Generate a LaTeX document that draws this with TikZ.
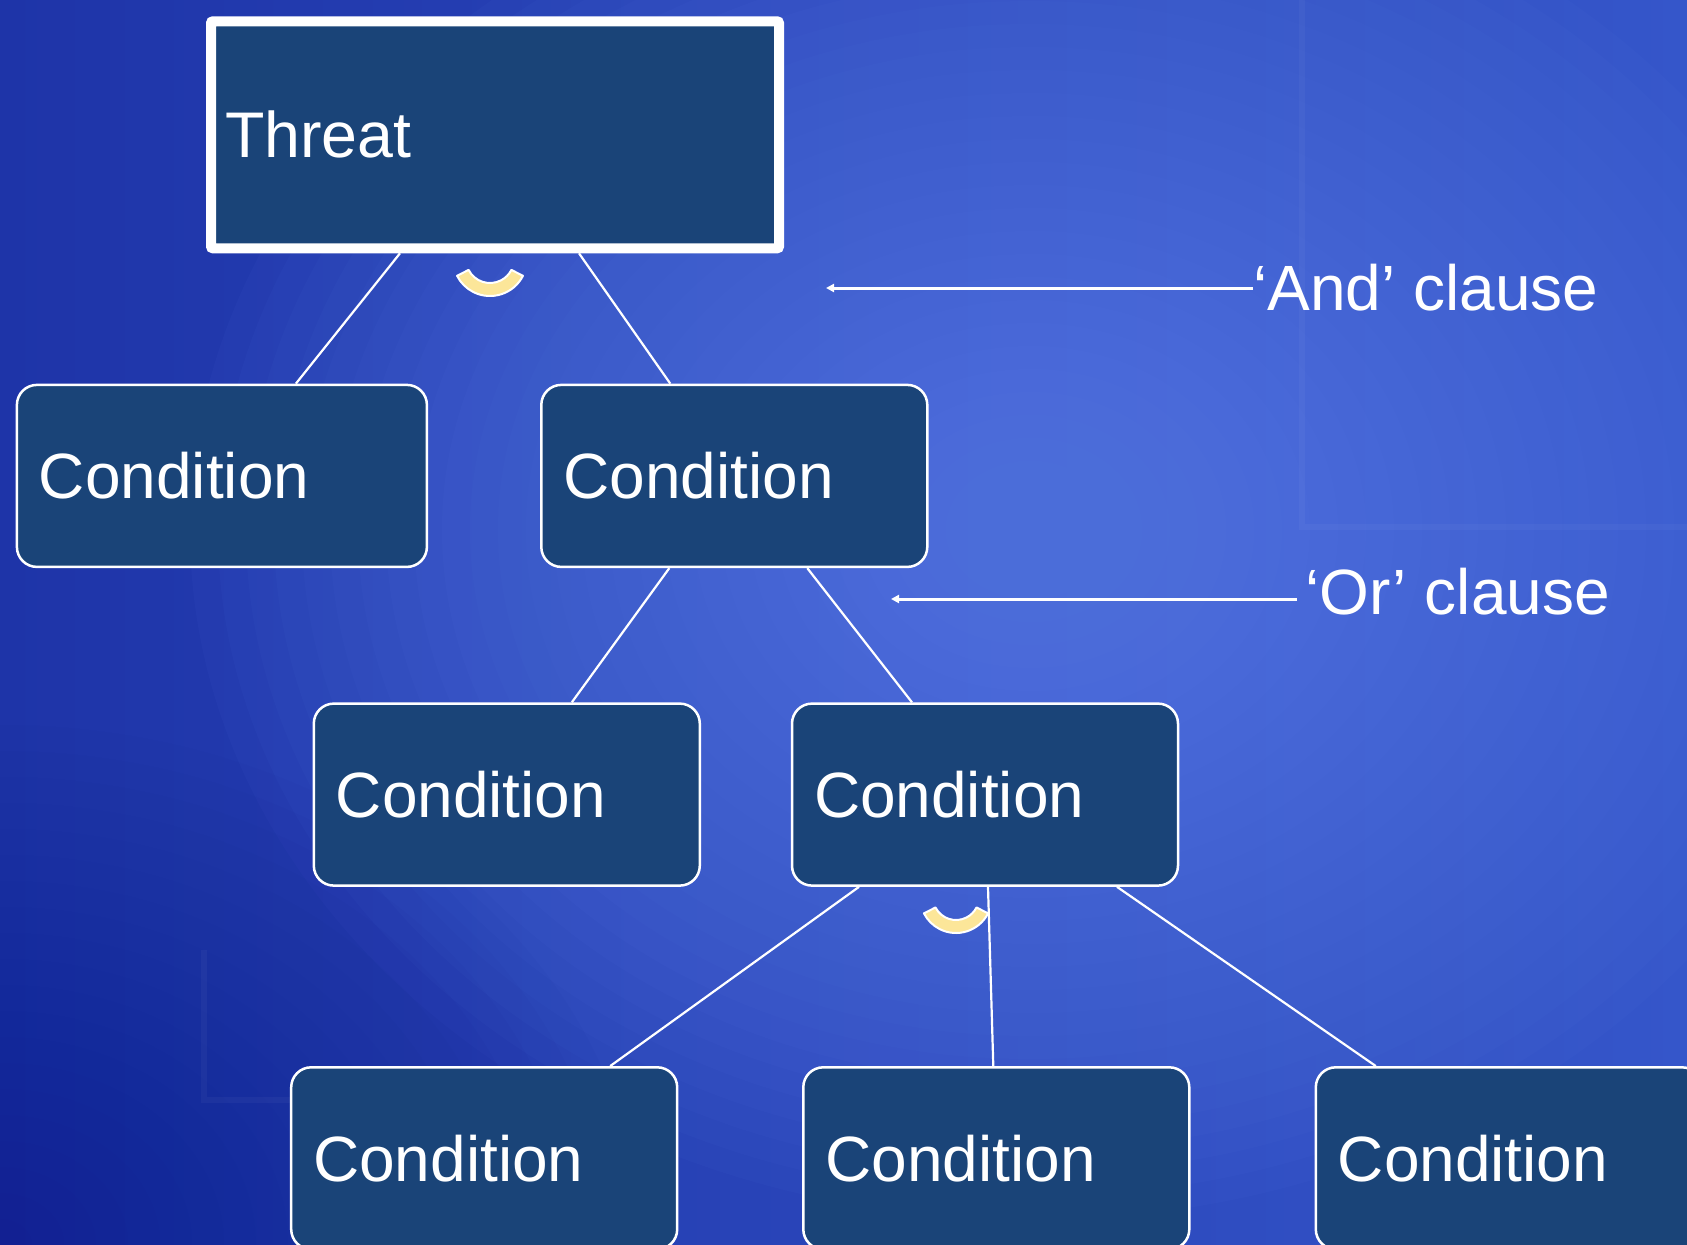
\documentclass[tikz,border=0pt]{standalone}
\usepackage{fontspec}
\setmainfont{Liberation Sans}
\usetikzlibrary{arrows.meta,calc}

\definecolor{bgleft}{HTML}{1E34A8}
\definecolor{bgright}{HTML}{3556CA}
\definecolor{bglight}{HTML}{5E80EC}
\definecolor{bgdark}{HTML}{121F8C}
\definecolor{boxblue}{HTML}{1A4478}
\definecolor{arcyellow}{HTML}{FCE699}

\begin{document}
\begin{tikzpicture}[x=1pt, y=-1pt,
  box/.style={draw=white, fill=boxblue, text=white, align=left,
    font=\fontsize{64}{70}\selectfont},
  cond/.style={box, line width=2.5pt, rounded corners=20pt,
    minimum height=182pt, inner xsep=22pt, text width=342pt},
  threatbox/.style={box, line width=10pt, rounded corners=2pt,
    minimum height=227pt, inner xsep=14pt, text width=540pt,
    font=\fontsize{64.5}{70}\selectfont},
  link/.style={draw=white, line width=2.2pt},
  pointer/.style={draw=white, line width=3pt, -{Triangle[length=8pt,width=8pt]}},
  clause/.style={text=white, inner sep=0pt, anchor=west,
    font=\fontsize{64}{70}\selectfont},
  andmark/.style={fill=arcyellow, draw=white, line width=2pt, line join=round},
  frameline/.style={draw=white, draw opacity=0.035, line width=6pt}
]
\useasboundingbox (0,0) rectangle (1687,1245);
\clip (0,0) rectangle (1687,1245);

% backdrop: horizontal blend, a soft light patch and a darker lower-left corner
\fill[left color=bgleft, right color=bgright] (0,0) rectangle (1687,1245);
\foreach \i in {1,...,30}
  \fill[bglight, fill opacity=0.05] (1030,530) ellipse [x radius={28*\i}, y radius={23*\i}];
\foreach \i in {1,...,20}
  \fill[bgdark, fill opacity=0.04] (0,1245) ellipse [x radius={32*\i}, y radius={26*\i}];
\draw[frameline] (1302,0) -- (1302,527) -- (1687,527);
\draw[frameline] (204,950) -- (204,1100) -- (292,1100);

% boxes
\node[threatbox] (T) at (495,134.8) {Threat};
\node[cond, text width=366pt] (A) at (221.9,475.9) {Condition};
\node[cond] (B) at (734.3,475.9) {Condition};
\node[cond] (C) at (506.8,794.6) {Condition};
\node[cond] (D) at (985,794.6) {Condition};
\node[cond] (E) at (484.2,1158.3) {Condition};
\node[cond] (F) at (996.3,1158.3) {Condition};
\node[cond] (G) at (1508.8,1158.3) {Condition};

% tree links
\draw[link] ([xshift=-95pt]T.south) -- ([xshift=74pt]A.north);
\draw[link] ([xshift=84pt]T.south) -- ([xshift=-64pt]B.north);
\draw[link] ([xshift=-65pt]B.south) -- ([xshift=65pt]C.north);
\draw[link] ([xshift=73pt]B.south) -- ([xshift=-73pt]D.north);
\draw[link] ([xshift=-126pt]D.south) -- ([xshift=126pt]E.north);
\draw[link] ([xshift=3pt]D.south) -- ([xshift=-3pt]F.north);
\draw[link] ([xshift=132pt]D.south) -- ([xshift=-133pt]G.north);

% 'and' arcs
\coordinate (andarcA) at (490,259);
\draw[andmark] ($(andarcA)+(27:37)$) arc[start angle=27, end angle=153, radius=37]
  -- ($(andarcA)+(153:24)$) arc[start angle=153, end angle=27, radius=24] -- cycle;
\coordinate (andarcB) at (956,897);
\draw[andmark] ($(andarcB)+(27:36)$) arc[start angle=27, end angle=153, radius=36]
  -- ($(andarcB)+(153:23)$) arc[start angle=153, end angle=27, radius=23] -- cycle;

% clause callouts
\node[clause] (andlbl) at (1253,288) {‘And’ clause};
\coordinate (andtip) at (826,288);
\draw[pointer] (andlbl.west) -- (andtip);
\node[clause] (orlbl) at (1305,592) {‘Or’ clause};
\coordinate (ortip) at (891,599);
\draw[pointer] ([xshift=-8pt,yshift=-7pt]orlbl.west) -- (ortip);
\end{tikzpicture}
\end{document}
